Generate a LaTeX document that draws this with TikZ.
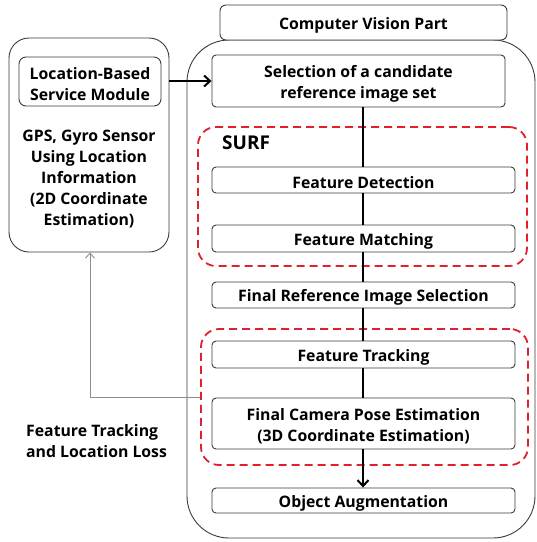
\documentclass[tikz,border=0pt]{standalone}
\usepackage{fontspec}
\setmainfont{Open Sans}[BoldFont={Open Sans Bold}]
\usetikzlibrary{arrows.meta}
\definecolor{boxline}{HTML}{3A3A3A}
\definecolor{surfred}{HTML}{E0202C}
\definecolor{backgray}{HTML}{8C8C8C}
\tikzset{
  txt/.style={font=\bfseries\fontsize{15.8}{21}\selectfont, text=black},
  % framed step; its caption sits slightly below the geometric centre
  stepbox/.style={draw=boxline, line width=0.9pt, fill=white, rounded corners=4pt,
    minimum width=303pt, inner sep=0pt,
    label={[txt, align=center, inner sep=0pt, yshift=-2.5pt]center:#1}},
  groupbox/.style={draw=surfred, line width=1.8pt, dash pattern=on 8pt off 5pt,
    rounded corners=18pt, inner sep=0pt},
  flow/.style={line width=2pt, black},
}
\begin{document}
\begin{tikzpicture}[x=1pt, y=-1pt]
  \useasboundingbox (0,0) rectangle (537,542);

  % computer vision container
  \node[draw=boxline, line width=0.9pt, rounded corners=42pt, inner sep=0pt,
        minimum width=348pt, minimum height=498pt] (cvouter) at (361,289) {};
  \node[stepbox={Computer Vision Part}, minimum width=287pt, minimum height=35pt,
        rounded corners=6pt] (cv) at (363.5,22.5) {};

  % location-based service side
  \node[draw=boxline, line width=0.9pt, rounded corners=20pt, inner sep=0pt,
        minimum width=160pt, minimum height=214pt] (lbsouter) at (89,145) {};
  \node[stepbox={{Location-Based\\Service Module}}, minimum width=142pt, minimum height=49pt,
        rounded corners=7pt] (lbs) at (90,81.5) {};
  \node[txt, align=center, inner sep=0pt] (gps) at (89,179)
    {GPS, Gyro Sensor\\Using Location\\Information\\(2D Coordinate\\Estimation)};

  % dashed groups
  \node[groupbox, minimum width=329pt, minimum height=139pt] (surfbox) at (362.5,196.5) {};
  \node[txt, font=\bfseries\fontsize{19}{22}\selectfont, anchor=west, inner sep=0pt] (surf) at (222,143) {SURF};
  \node[groupbox, minimum width=327pt, minimum height=136pt] (trackbox) at (364.5,397) {};

  % processing steps
  \node[stepbox={{Selection of a candidate\\reference image set}}, minimum width=293pt,
        minimum height=52pt] (sel) at (358.5,81) {};
  \node[stepbox={Feature Detection}, minimum height=26pt] (det) at (363.5,180) {};
  \node[stepbox={Feature Matching}, minimum height=27pt] (mat) at (363.5,238.5) {};
  \node[stepbox={Final Reference Image Selection}, minimum height=26pt] (fin) at (363.5,295) {};
  \node[stepbox={Feature Tracking}, minimum height=27pt] (trk) at (363.5,354.5) {};
  \node[stepbox={{Final Camera Pose Estimation\\(3D Coordinate Estimation)}},
        minimum height=51pt] (cam) at (363.5,423.5) {};
  \node[stepbox={Object Augmentation}, minimum height=25pt] (obj) at (363.5,500.5) {};

  % main flow
  \draw[flow] ([xshift=-0.5pt]det.north |- sel.south) -- ([xshift=-0.5pt]det.north);
  \draw[flow] ([xshift=-0.5pt]det.south) -- ([xshift=-0.5pt]mat.north);
  \draw[flow] ([xshift=-0.5pt]mat.south) -- ([xshift=-0.5pt]fin.north);
  \draw[flow] ([xshift=-0.5pt]fin.south) -- ([xshift=-0.5pt]trk.north);
  \draw[flow] ([xshift=-0.5pt]trk.south) -- ([xshift=-0.5pt]cam.north);
  \draw[flow, -{Straight Barb[length=6pt, width=11pt]}] ([xshift=-0.5pt]cam.south) -- ([xshift=-0.5pt]obj.north);

  % location input
  \draw[flow, -{Straight Barb[length=6pt, width=11pt]}] (lbsouter.east |- sel.west) -- (sel.west);

  % feedback on tracking loss
  \draw[backgray, line width=0.9pt, -{Straight Barb[length=5pt, width=9pt]}]
    (trackbox.west) -| ([xshift=1pt]lbsouter.south);
  \node[txt, align=left, anchor=north west, inner sep=0pt] (loss) at (26,424)
    {Feature Tracking\\and Location Loss};
\end{tikzpicture}
\end{document}
